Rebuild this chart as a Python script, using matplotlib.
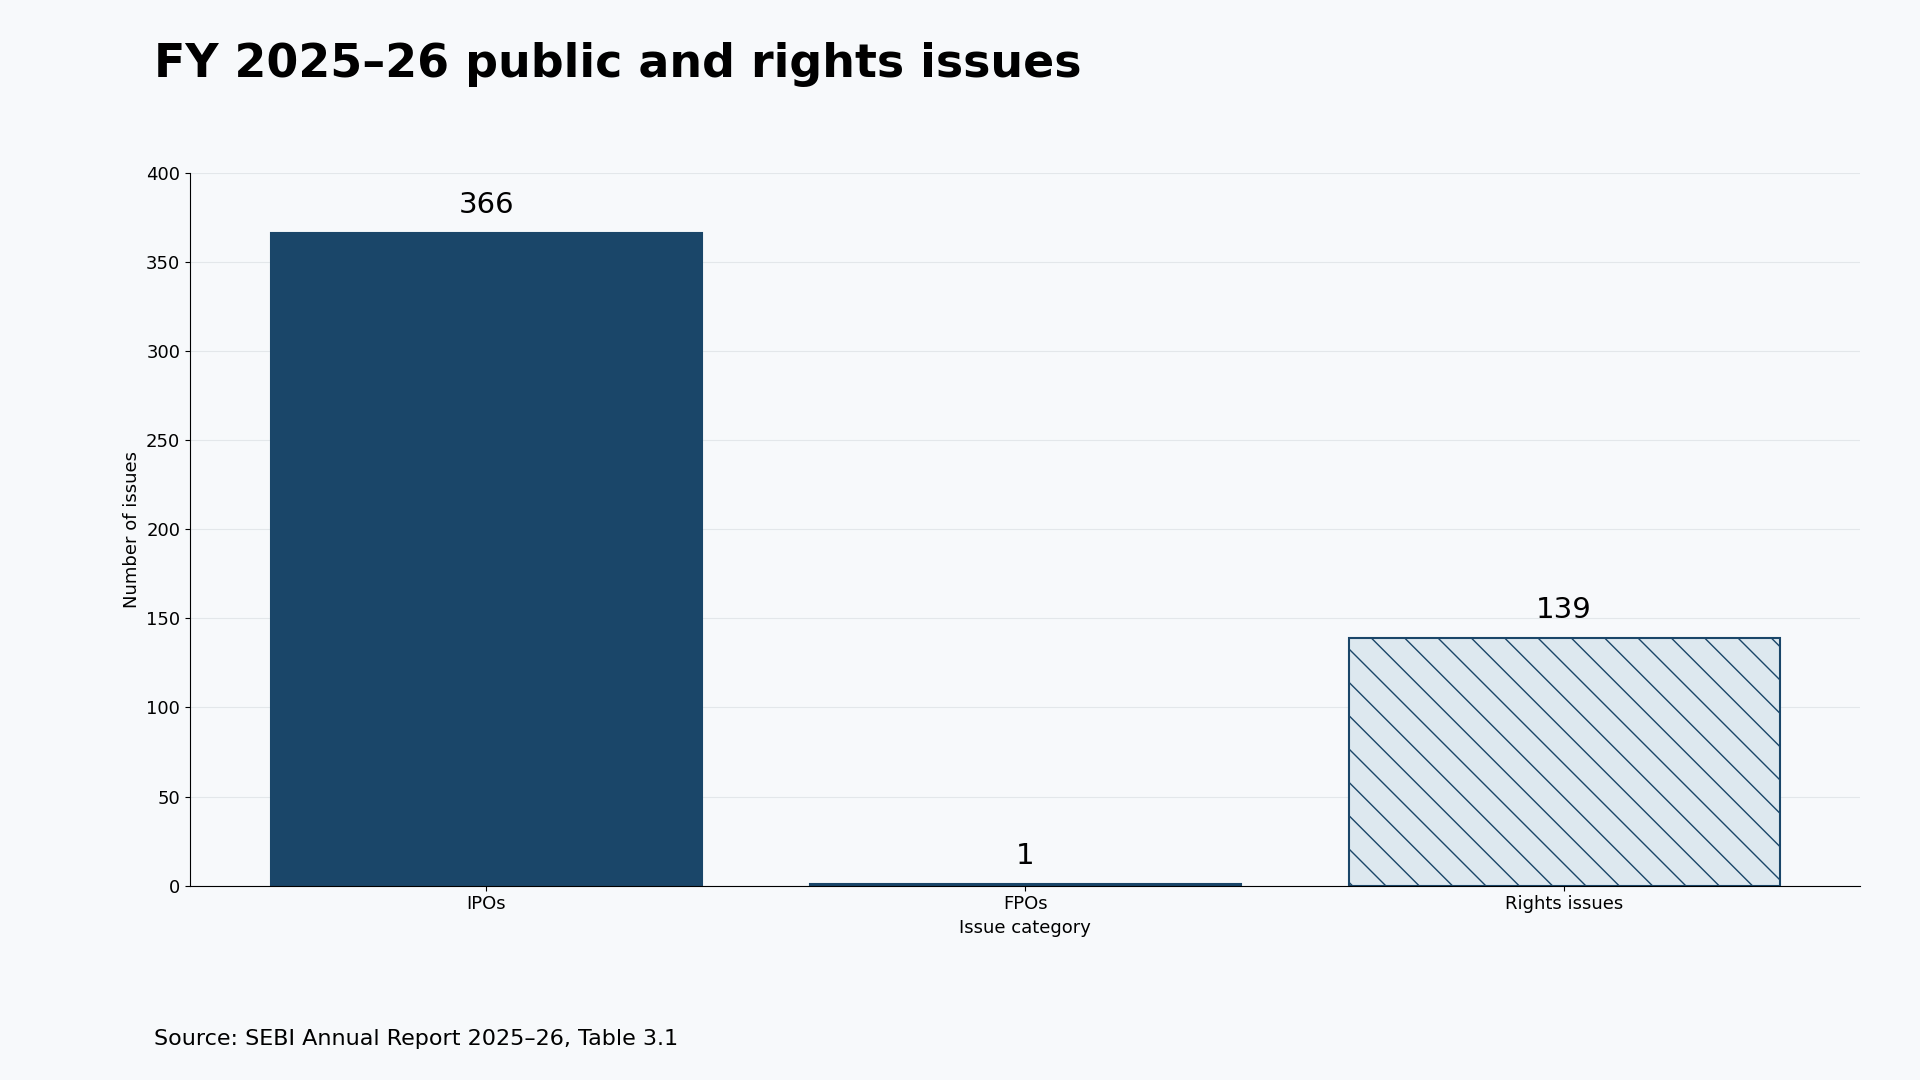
import matplotlib
matplotlib.use("Agg")
import matplotlib.pyplot as plt

categories = ["IPOs", "FPOs", "Rights issues"]
counts = [366, 1, 139]

dark = "#1a4669"
bg = "#f7f9fb"

fig = plt.figure(figsize=(19.2, 10.8), dpi=100, facecolor=bg)
ax = fig.add_axes([0.099, 0.180, 0.870, 0.660], facecolor=bg)

x = range(len(categories))
bars = ax.bar(x, counts, width=0.8, color=[dark, dark, "#dde8ef"],
              edgecolor=dark, linewidth=1.5)
bars[2].set_hatch("\\")
plt.rcParams["hatch.color"] = dark
plt.rcParams["hatch.linewidth"] = 1.5

for b, v in zip(bars, counts):
    ax.text(b.get_x() + b.get_width() / 2, v + 8, f"{v}",
            ha="center", va="bottom", fontsize=21)

ax.set_xticks(list(x))
ax.set_xticklabels(categories, fontsize=13)
ax.tick_params(axis="y", labelsize=13)
ax.set_ylim(0, 400)
ax.set_xlim(-0.55, 2.55)
ax.set_xlabel("Issue category", fontsize=13)
ax.set_ylabel("Number of issues", fontsize=13)
ax.yaxis.grid(True, color="#e3e7ea", linewidth=0.8)
ax.set_axisbelow(True)
for s in ("top", "right"):
    ax.spines[s].set_visible(False)

fig.text(0.08, 0.94, "FY 2025\u201326 public and rights issues",
         fontsize=33, fontweight="bold", va="center")
fig.text(0.08, 0.038, "Source: SEBI Annual Report 2025\u201326, Table 3.1",
         fontsize=16, va="center")

fig.savefig("out.png", dpi=100, facecolor=bg)
